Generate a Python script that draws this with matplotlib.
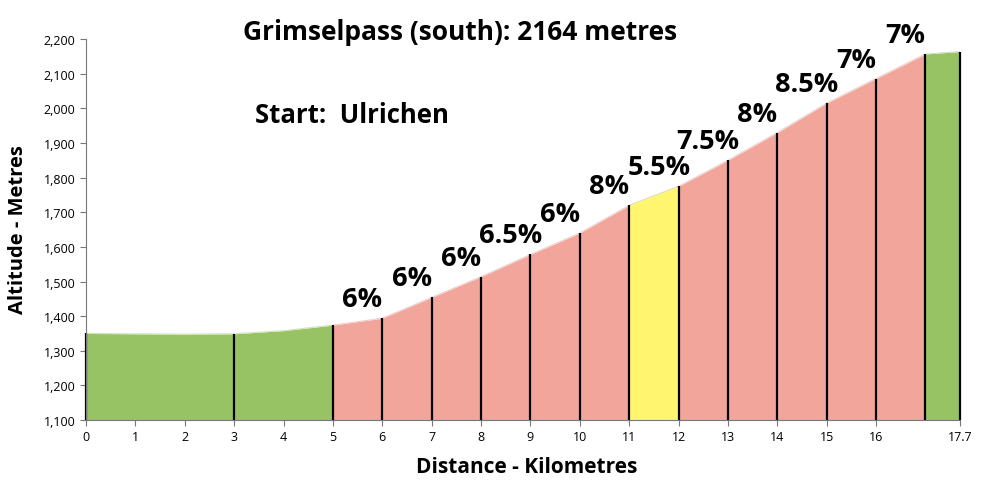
import numpy as np
import matplotlib
matplotlib.use('Agg')
import matplotlib.pyplot as plt
from matplotlib.ticker import FuncFormatter

# profile, km vs altitude
km = [0, 1, 2, 3, 4, 5, 6, 7, 8, 9, 10, 11, 12, 13, 14, 15, 16, 17, 17.7]
alt = [1350, 1349, 1348, 1349, 1358, 1374, 1394, 1454, 1514, 1578, 1640,
       1720, 1775, 1850, 1930, 2015, 2086, 2157, 2164]

# segments between the black lines
bounds = [0, 3, 5, 6, 7, 8, 9, 10, 11, 12, 13, 14, 15, 16, 17, 17.7]
seg_col = ['g', 'g', 'r', 'r', 'r', 'r', 'r', 'r', 'y', 'r', 'r', 'r', 'r', 'r', 'g']
grades = ['', '', '6%', '6%', '6%', '6.5%', '6%', '8%', '5.5%', '7.5%', '8%',
          '8.5%', '7%', '7%', '']

xticks = [0, 1, 2, 3, 4, 5, 6, 7, 8, 9, 10, 11, 12, 13, 14, 15, 16, 17.7]
xticklabels = ['0', '1', '2', '3', '4', '5', '6', '7', '8', '9', '10', '11',
               '12', '13', '14', '15', '16', '17.7']

colmap = {'g': '#98c364', 'r': '#f2a59a', 'y': '#fff56f'}
ymin, ymax = 1100, 2200

plt.rcParams['font.family'] = ['Open Sans', 'DejaVu Sans']

fig = plt.figure(figsize=(10, 4.89), dpi=100)
ax = fig.add_axes([0.086, 0.139, 0.874, 0.779])

km_a = np.array(km)
alt_a = np.array(alt)
for i in range(len(bounds) - 1):
    a, b = bounds[i], bounds[i + 1]
    m = (km_a >= a) & (km_a <= b)
    ax.fill_between(km_a[m], ymin, alt_a[m], color=colmap[seg_col[i]], lw=0)

ax.plot(km, alt, color='#d8d8d8', lw=0.8)

for b in bounds:
    top = np.interp(b, km, alt)
    ax.plot([b, b], [ymin, top], color='black', lw=1.6, solid_capstyle='butt',
            clip_on=False)

for i, g in enumerate(grades):
    if not g:
        continue
    a, b = bounds[i], bounds[i + 1]
    ax.annotate(g, xy=((a + b) / 2 + 0.1, np.interp(b, km, alt)),
                xytext=(0, 19), textcoords='offset pixels',
                ha='center', va='center', fontsize=19.5, fontweight='bold')

ax.set_xlim(0, 17.7)
ax.set_ylim(ymin, ymax)
ax.set_xticks(xticks)
ax.set_xticklabels(xticklabels)
ax.set_yticks(np.arange(1100, 2201, 100))
ax.yaxis.set_major_formatter(FuncFormatter(lambda v, p: f'{int(v):,}'))
ax.tick_params(labelsize=9, length=4, color='#777777', direction='out')
for s in ['top', 'right']:
    ax.spines[s].set_visible(False)
for s in ['left', 'bottom']:
    ax.spines[s].set_color('#777777')

fig.text(0.018, 0.53, 'Altitude - Metres', rotation=90, ha='center', va='center',
         fontsize=14.5, fontweight='bold')
fig.text(0.527, 0.043, 'Distance - Kilometres', ha='center', va='center',
         fontsize=15, fontweight='bold')
fig.text(0.46, 0.933, 'Grimselpass (south): 2164 metres', ha='center', va='center',
         fontsize=19, fontweight='bold')
fig.text(0.352, 0.763, 'Start:  Ulrichen', ha='center', va='center',
         fontsize=18.5, fontweight='bold')

fig.savefig('out.png', dpi=100)
